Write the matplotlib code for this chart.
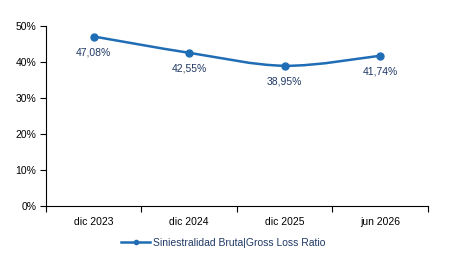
import numpy as np
import matplotlib.pyplot as plt
from matplotlib.path import Path
from matplotlib.patches import PathPatch
from matplotlib.lines import Line2D

plt.rcParams['font.family'] = ['Liberation Sans', 'DejaVu Sans']

categories = ['dic 2023', 'dic 2024', 'dic 2025', 'jun 2026']
values = [47.08, 42.55, 38.95, 41.74]
labels = ['47,08%', '42,55%', '38,95%', '41,74%']
yticks = [0, 10, 20, 30, 40, 50]

color = '#1f6db4'
txt_color = '#1f3864'

fig = plt.figure(figsize=(4.56, 2.61), dpi=100)
ax = fig.add_axes([46/456, 1 - 206/261, (428-46)/456, (206-26)/261])

x = np.arange(len(values))
y = np.array(values)

# smoothed line (bezier through the points, like excel smoothing)
verts = [(x[0], y[0])]
codes = [Path.MOVETO]
t = 1/6
for i in range(len(x) - 1):
    p0 = (x[i-1], y[i-1]) if i > 0 else (x[i], y[i])
    p1 = (x[i], y[i])
    p2 = (x[i+1], y[i+1])
    p3 = (x[i+2], y[i+2]) if i + 2 < len(x) else (x[i+1], y[i+1])
    c1 = (p1[0] + (p2[0]-p0[0])*t, p1[1] + (p2[1]-p0[1])*t)
    c2 = (p2[0] - (p3[0]-p1[0])*t, p2[1] - (p3[1]-p1[1])*t)
    verts += [c1, c2, p2]
    codes += [Path.CURVE4]*3
ax.add_patch(PathPatch(Path(verts, codes), fill=False, edgecolor=color, lw=1.8))
ax.plot(x, y, 'o', color=color, ms=5)

for xi, yi, lab in zip(x, y, labels):
    ax.annotate(lab, (xi, yi), xytext=(0, -8), textcoords='offset points',
                ha='center', va='top', fontsize=7.5, color=txt_color)

ax.set_xlim(-0.5, 3.5)
ax.set_ylim(0, 50)
ax.set_yticks(yticks)
ax.set_yticklabels([f'{v}%' for v in yticks], fontsize=7.5)
ax.set_xticks(np.arange(-0.5, 4, 1))
ax.set_xticklabels([])
ax.set_xticks(x, minor=True)
ax.set_xticklabels(categories, minor=True, fontsize=7.5)
ax.tick_params(axis='x', which='minor', length=0, pad=8)
ax.tick_params(axis='x', which='major', length=4, direction='out')
ax.tick_params(axis='y', length=4, direction='out', pad=3)
for s in ['top', 'right']:
    ax.spines[s].set_visible(False)

h = Line2D([], [], color=color, lw=1.8, marker='o', ms=3)
fig.legend([h], ['Siniestralidad Bruta|Gross Loss Ratio'], loc='center',
           bbox_to_anchor=(0.49, 1 - 243/261), frameon=False, fontsize=7.5,
           handlelength=2.8, handletextpad=0.3, labelcolor=txt_color)

fig.savefig('out.png', dpi=100)
